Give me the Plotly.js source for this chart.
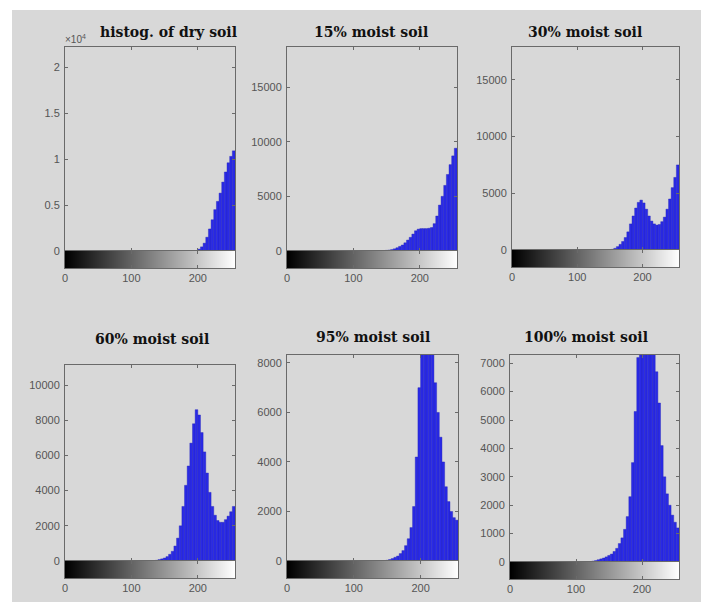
<!DOCTYPE html>
<html>
<head>
<meta charset="utf-8">
<script src="https://cdn.plot.ly/plotly-3.0.1.min.js"></script>
<style>html,body{margin:0;padding:0;background:#fff;}#chart{width:701px;height:602px;}</style>
</head>
<body>
<div id="chart"></div>
<script>
// Bin centres (grey level, 4-level bins)
const binCenters = [118,122,126,130,134,138,142,146,150,154,158,162,166,170,174,178,182,186,190,194,198,202,206,210,214,218,222,226,230,234,238,242,246,250,254];

// Histogram counts per bin
const drySoil   = [0,0,0,0,0,0,0,0,0,0,0,0,0,0,0,0,0,0,0,0,50,200,450,850,1500,2400,3400,4500,5400,6300,7500,8600,9600,10300,10900];
const moist15   = [0,0,0,0,0,0,20,40,60,90,130,200,300,420,550,750,1000,1250,1550,1850,2000,2050,2050,2050,2080,2150,2500,3200,4200,5000,6000,7000,7900,8700,9400];
const moist30   = [0,0,0,0,0,0,0,0,20,60,150,300,500,750,1100,1600,2300,3000,3700,4200,4400,4150,3600,3000,2550,2300,2200,2250,2500,2900,3600,4500,5500,6400,7500];
const moist60   = [0,0,0,0,10,40,80,120,170,250,380,550,850,1300,2000,3100,4300,5400,6700,7800,8600,8300,7300,6200,5000,3900,3100,2600,2300,2200,2200,2350,2550,2800,3100];
const moist95   = [0,0,0,0,0,0,0,10,30,60,100,150,200,300,420,620,900,1350,2200,4200,7000,9300,10200,10300,9800,8600,7200,6000,5000,4000,3000,2400,2000,1750,1650];
const moist100  = [0,10,30,50,80,110,140,180,230,280,370,480,650,850,1150,1600,2300,3500,5300,7200,8600,9200,9400,9200,8600,7700,6700,5600,4100,3000,2400,2000,1650,1400,1200];

// Panel titles and y tick labels
const titles = ['histog. of dry soil','15% moist soil','30% moist soil','60% moist soil','95% moist soil','100% moist soil'];
const yTickVals = [
  [0,5000,10000,15000,20000],
  [0,5000,10000,15000],
  [0,5000,10000,15000],
  [0,2000,4000,6000,8000,10000],
  [0,2000,4000,6000,8000],
  [0,1000,2000,3000,4000,5000,6000,7000]
];
const yTickText = [
  ['0','0.5','1','1.5','2'],
  ['0','5000','10000','15000'],
  ['0','5000','10000','15000'],
  ['0','2000','4000','6000','8000','10000'],
  ['0','2000','4000','6000','8000'],
  ['0','1000','2000','3000','4000','5000','6000','7000']
];
const yMax = [22200,18660,17900,11140,8320,7290];
const xTickVals = [0,100,200];
const xTickText = ['0','100','200'];

// Colour bar grey levels (0..255)
const grayLevels = Array.from({length:256},(_,i)=>i+0.5);
const grayZ = [Array.from({length:256},(_,i)=>i)];

const series = [drySoil,moist15,moist30,moist60,moist95,moist100];

// Layout geometry in pixels
const W = 701, H = 602;
const geo = [
  {x0:65, x1:235, yt:47,  yb:251, cb:268, tx:168, ty:32},
  {x0:287,x1:457, yt:47,  yb:251, cb:268, tx:371, ty:32},
  {x0:512,x1:679, yt:47,  yb:250, cb:267, tx:585, ty:32},
  {x0:65, x1:235, yt:365, yb:561, cb:578, tx:152, ty:339},
  {x0:287,x1:458, yt:355, yb:561, cb:578, tx:373, ty:337},
  {x0:510,x1:679, yt:355, yb:562, cb:579, tx:586, ty:337}
];
const px = v => v / W;
const py = v => 1 - v / H;

const lineCol = '#6a6a6a';
const tickFont = {family:'Liberation Sans, Arial, sans-serif', size:11, color:'#555'};

const traces = [];
const layout = {
  width: W, height: H,
  margin: {l:0, r:0, t:0, b:0},
  paper_bgcolor: '#ffffff',
  plot_bgcolor: '#ffffff',
  showlegend: false,
  shapes: [{type:'rect', xref:'paper', yref:'paper', x0:px(12), x1:1, y0:0, y1:py(10),
            fillcolor:'#d8d8d8', line:{width:0}, layer:'below'}],
  annotations: []
};

series.forEach((vals, i) => {
  const g = geo[i];
  const hx = 2*i + 1, cx = 2*i + 2;

  traces.push({
    type:'bar', x: binCenters, y: vals, width: 4,
    xaxis:'x'+hx, yaxis:'y'+hx,
    marker:{color:'#2a2ae6', line:{color:'#2020b8', width:0.4}},
    hoverinfo:'x+y'
  });
  traces.push({
    type:'heatmap', x: grayLevels, y:[0], z: grayZ,
    xaxis:'x'+cx, yaxis:'y'+cx,
    colorscale:[[0,'#000000'],[1,'#ffffff']], showscale:false, zsmooth:'best',
    hoverinfo:'skip'
  });

  const common = {showline:true, linecolor:lineCol, linewidth:1, mirror:'allticks',
                  showgrid:false, zeroline:false, ticks:'inside', ticklen:3,
                  tickcolor:lineCol, tickfont:tickFont, fixedrange:true};

  layout['xaxis'+hx] = Object.assign({}, common, {
    domain:[px(g.x0), px(g.x1)], anchor:'y'+hx, range:[0,256],
    tickvals:xTickVals, showticklabels:false
  });
  layout['yaxis'+hx] = Object.assign({}, common, {
    domain:[py(g.yb), py(g.yt)], anchor:'x'+hx, range:[0, yMax[i]],
    tickvals:yTickVals[i], ticktext:yTickText[i], ticklabelstandoff:2
  });
  layout['xaxis'+cx] = Object.assign({}, common, {
    domain:[px(g.x0), px(g.x1)], anchor:'y'+cx, range:[0,256],
    tickvals:xTickVals, ticktext:xTickText
  });
  layout['yaxis'+cx] = Object.assign({}, common, {
    domain:[py(g.cb), py(g.yb)], anchor:'x'+cx, range:[-0.5,0.5],
    showticklabels:false, ticks:''
  });

  layout.annotations.push({
    xref:'paper', yref:'paper', x:px(g.tx), y:py(g.ty), xanchor:'center', yanchor:'middle',
    text:'<b>' + titles[i] + '</b>', showarrow:false,
    font:{family:'DejaVu Serif, serif', size:14, color:'#111'}
  });
});

layout.annotations.push({
  xref:'paper', yref:'paper', x:px(63), y:py(39), xanchor:'left', yanchor:'middle',
  text:'×10<sup>4</sup>', showarrow:false,
  font:{family:'Liberation Sans, Arial, sans-serif', size:10, color:'#555'}
});

Plotly.newPlot('chart', traces, layout, {displayModeBar:false, staticPlot:true});
</script>
</body>
</html>
